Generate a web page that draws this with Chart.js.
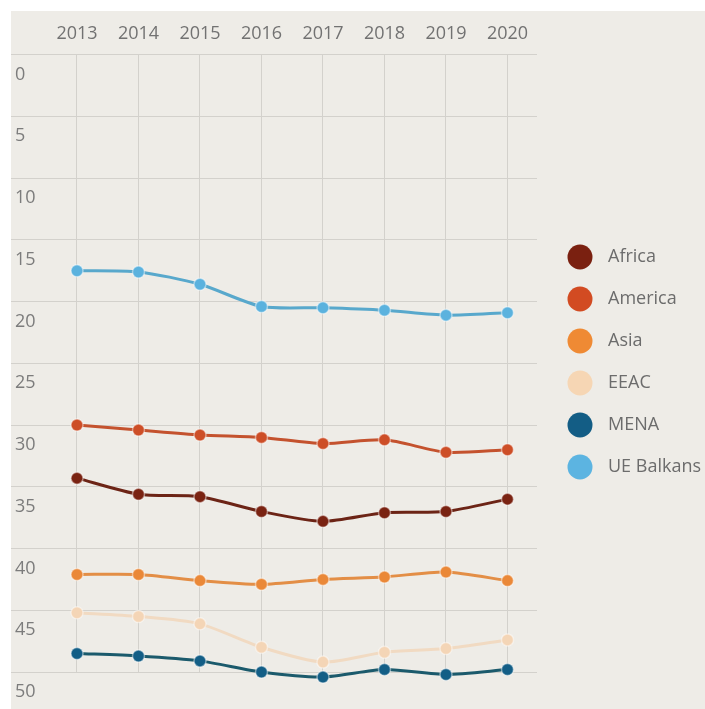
<!DOCTYPE html>
<html>
<head>
<meta charset="utf-8">
<script src="https://cdn.jsdelivr.net/npm/chart.js@4.4.1/dist/chart.umd.min.js"></script>
<style>
  html, body { margin: 0; padding: 0; background: #ffffff; }
  #wrap { position: relative; width: 705px; height: 709px; }
</style>
</head>
<body>
<div id="wrap"><canvas id="chart" width="705" height="709"></canvas></div>
<script>
// Years on the horizontal axis
const years = [2013, 2014, 2015, 2016, 2017, 2018, 2019, 2020];

// Values per region (axis runs 0 at top to 50 at bottom)
const africa     = [34.3, 35.6, 35.8, 37.0, 37.8, 37.1, 37.0, 36.0];
const america    = [30.0, 30.4, 30.8, 31.0, 31.5, 31.2, 32.2, 32.0];
const asia       = [42.1, 42.1, 42.6, 42.9, 42.5, 42.3, 41.9, 42.6];
const eeac       = [45.2, 45.5, 46.1, 48.0, 49.2, 48.4, 48.1, 47.4];
const mena       = [48.5, 48.7, 49.1, 50.0, 50.4, 49.8, 50.2, 49.8];
const ueBalkans  = [17.5, 17.6, 18.6, 20.4, 20.5, 20.7, 21.1, 20.9];

// Vertical axis ticks
const yTicks = [0, 5, 10, 15, 20, 25, 30, 35, 40, 45, 50];

const seriesNames = ['Africa', 'America', 'Asia', 'EEAC', 'MENA', 'UE Balkans'];
const seriesValues = [africa, america, asia, eeac, mena, ueBalkans];
const pointColors = ['#7a2312', '#cd4e27', '#ea8838', '#f4d5b6', '#135e86', '#5bb2de'];
const lineColors  = ['#6c2416', '#c4522e', '#e38e46', '#f1dac2', '#1b5a6c', '#58a8cc'];
const legendColors = ['#7a2010', '#d24b22', '#ef8a34', '#f6d6b4', '#135d85', '#5cb4e1'];

const FONT = '"Open Sans", "DejaVu Sans", sans-serif';

// Round swatch used for each legend entry
function swatch(color) {
  const c = document.createElement('canvas');
  c.width = 26; c.height = 26;
  const g = c.getContext('2d');
  g.fillStyle = color;
  g.beginPath();
  g.arc(13, 13, 12.5, 0, Math.PI * 2);
  g.fill();
  return c;
}
const swatches = legendColors.map(swatch);

const datasets = seriesNames.map((name, i) => ({
  label: name,
  data: years.map((yr, k) => ({ x: yr, y: seriesValues[i][k] })),
  borderColor: lineColors[i],
  backgroundColor: pointColors[i],
  pointBackgroundColor: pointColors[i],
  pointBorderColor: 'rgba(255,255,255,0.45)',
  pointBorderWidth: 1.5,
  pointRadius: 6,
  borderWidth: 3,
  tension: 0.25,
  clip: false
}));

// Page background: thin white margin on top/left, warm grey panel
const panel = {
  id: 'panel',
  beforeDraw(chart) {
    const { ctx, width, height } = chart;
    ctx.save();
    ctx.fillStyle = '#ffffff';
    ctx.fillRect(0, 0, width, height);
    ctx.fillStyle = '#eeece7';
    ctx.fillRect(11, 11, width - 11, height - 11);
    ctx.restore();
  }
};

new Chart(document.getElementById('chart'), {
  type: 'line',
  data: { datasets },
  plugins: [panel],
  options: {
    responsive: false,
    animation: false,
    layout: { padding: { top: 14, left: 3, right: 0, bottom: 37 } },
    scales: {
      x: {
        type: 'linear',
        position: 'top',
        min: 2011.927,
        max: 2020.48,
        afterBuildTicks(scale) {
          scale.ticks = years.map(v => ({ value: v }));
        },
        ticks: {
          callback: v => String(v),
          color: '#727272',
          font: { family: FONT, size: 18 },
          padding: 9.5,
          maxRotation: 0,
          autoSkip: false
        },
        grid: { color: '#d3d1cc', lineWidth: 1, drawTicks: false },
        border: { display: false }
      },
      y: {
        type: 'linear',
        reverse: true,
        min: 0,
        max: 50,
        afterBuildTicks(scale) {
          scale.ticks = yTicks.map(v => ({ value: v }));
        },
        ticks: {
          mirror: true,
          padding: 4,
          labelOffset: 20,
          color: '#7c7c7c',
          font: { family: FONT, size: 18 }
        },
        grid: { color: '#d3d1cc', lineWidth: 1, drawTicks: false },
        border: { display: false }
      }
    },
    plugins: {
      tooltip: { enabled: false },
      legend: {
        position: 'right',
        align: 'center',
        maxWidth: 168,
        title: { display: true, text: '', font: { size: 12 }, padding: { top: 0, bottom: 23.6 } },
        labels: {
          usePointStyle: true,
          pointStyleWidth: 38,
          padding: 24,
          color: '#6c6c6c',
          font: { family: FONT, size: 18 },
          generateLabels(chart) {
            const items = Chart.defaults.plugins.legend.labels.generateLabels(chart);
            items.forEach((it, i) => { it.pointStyle = swatches[i]; it.fontColor = '#6c6c6c'; });
            return items;
          }
        }
      }
    }
  }
});
</script>
</body>
</html>
